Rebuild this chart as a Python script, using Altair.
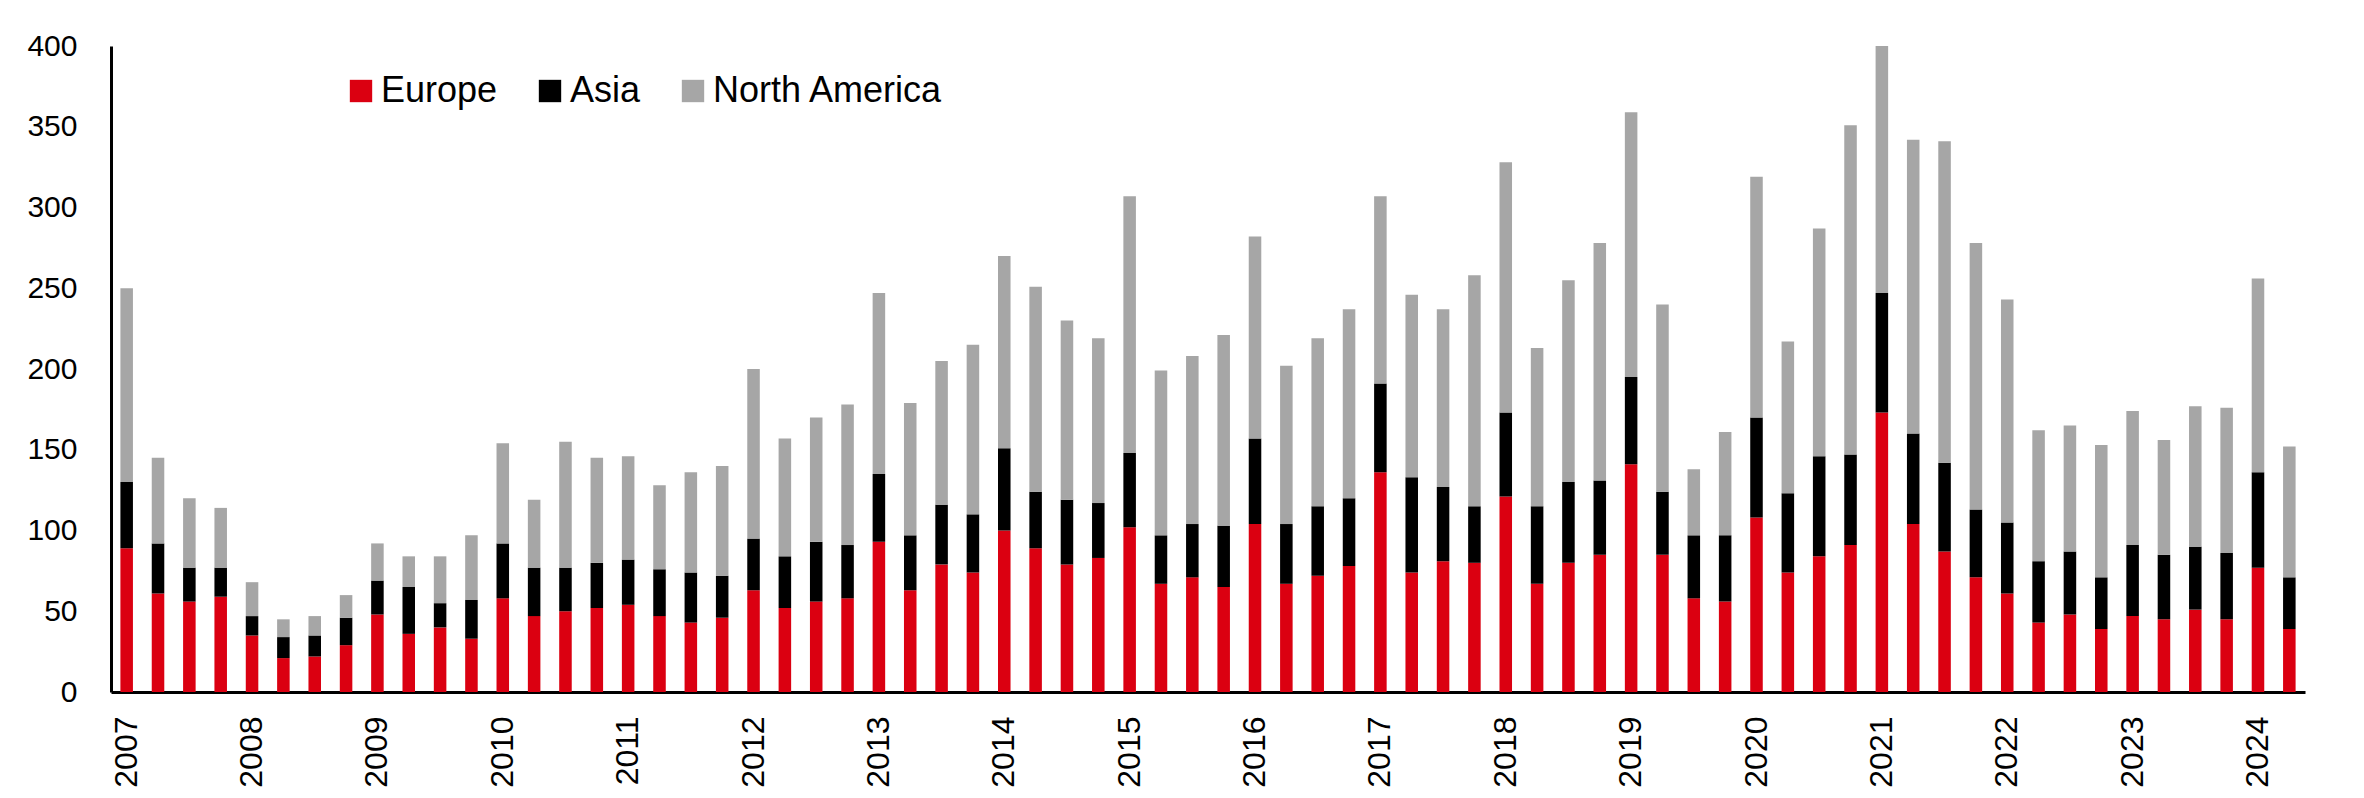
import altair as alt
import pandas as pd

years = list(range(2007, 2025))
periods = [f"{y} Q{q}" for y in years for q in (1, 2, 3, 4)][:70]

europe = [89, 61, 56, 59, 35, 21, 22, 29, 48, 36, 40, 33, 58, 47, 50, 52,
          54, 47, 43, 46, 63, 52, 56, 58, 93, 63, 79, 74, 100, 89, 79, 83,
          102, 67, 71, 65, 104, 67, 72, 78, 136, 74, 81, 80, 121, 67, 80, 85,
          141, 85, 58, 56, 108, 74, 84, 91, 173, 104, 87, 71, 61, 43, 48, 39,
          47, 45, 51, 45, 77, 39]
asia = [41, 31, 21, 18, 12, 13, 13, 17, 21, 29, 15, 24, 34, 30, 27, 28,
        28, 29, 31, 26, 32, 32, 37, 33, 42, 34, 37, 36, 51, 35, 40, 34,
        46, 30, 33, 38, 53, 37, 43, 42, 55, 59, 46, 35, 52, 48, 50, 46,
        54, 39, 39, 41, 62, 49, 62, 56, 74, 56, 55, 42, 44, 38, 39, 32,
        44, 40, 39, 41, 59, 32]
north_america = [120, 53, 43, 37, 21, 11, 12, 14, 23, 19, 29, 40, 62, 42, 78, 65,
                 64, 52, 62, 68, 105, 73, 77, 87, 112, 82, 89, 105, 119, 127, 111, 102,
                 159, 102, 104, 118, 125, 98, 104, 117, 116, 113, 110, 143, 155, 98, 125, 147,
                 164, 116, 41, 64, 149, 94, 141, 204, 153, 182, 199, 165, 138, 81, 78, 82,
                 83, 71, 87, 90, 120, 81]

regions = ["Europe", "Asia", "North America"]
colors = ["#DB0011", "#000000", "#A6A6A6"]
y_ticks = [0, 50, 100, 150, 200, 250, 300, 350, 400]

rows = []
for i, p in enumerate(periods):
    for k, (name, vals) in enumerate(zip(regions, [europe, asia, north_america])):
        rows.append({"period": p, "region": name, "value": vals[i], "order": k})
df = pd.DataFrame(rows)

FONT = "Liberation Sans"

chart = alt.Chart(df).mark_bar().encode(
    x=alt.X(
        "period:N",
        sort=periods,
        scale=alt.Scale(paddingInner=0.6, paddingOuter=0.3),
        axis=alt.Axis(
            title=None,
            labelAngle=270,
            labelExpr="indexof(datum.label, 'Q1') > 0 ? substring(datum.label, 0, 4) : ''",
            labelOverlap=False,
            ticks=False,
            labelPadding=24,
            labelFontSize=32,
            labelFont=FONT,
            labelColor="black",
            domainWidth=3,
            domainColor="black",
        ),
    ),
    y=alt.Y(
        "value:Q",
        stack="zero",
        scale=alt.Scale(domain=[0, 400], nice=False),
        axis=alt.Axis(
            title=None,
            values=y_ticks,
            grid=False,
            ticks=False,
            labelPadding=34,
            labelFontSize=30,
            labelFont=FONT,
            labelColor="black",
            domainWidth=3,
            domainColor="black",
        ),
    ),
    color=alt.Color(
        "region:N",
        sort=regions,
        scale=alt.Scale(domain=regions, range=colors),
        legend=alt.Legend(
            title=None,
            orient="none",
            legendX=232,
            legendY=27,
            direction="horizontal",
            symbolType="square",
            symbolSize=500,
            symbolStrokeWidth=0,
            symbolOpacity=1,
            labelFontSize=36,
            labelFont=FONT,
            labelColor="black",
            labelLimit=0,
            labelOffset=2,
            columnPadding=34,
        ),
    ),
    order=alt.Order("order:Q", sort="ascending"),
).properties(
    width=2194,
    height=646,
    autosize=alt.AutoSizeParams(type="none"),
    padding={"left": 103, "top": 38, "right": 40, "bottom": 100},
).configure_view(stroke=None)

chart.save("out.html", embed_options={"renderer": "svg", "actions": False})
